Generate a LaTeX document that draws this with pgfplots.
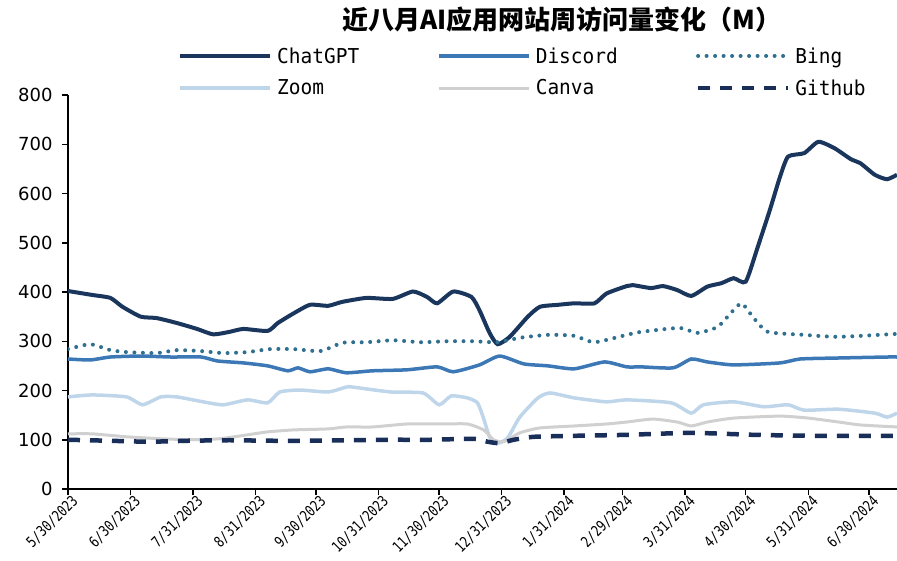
\documentclass[border=0pt]{standalone}
\usepackage{fontspec}
\usepackage{pgfplots}
\pgfplotsset{compat=1.18}
\setmainfont{Liberation Sans}
\newfontfamily\cjk{Noto Sans CJK SC}
\newfontfamily\legfont[FakeStretch=0.95]{DejaVu Sans Mono}
\newfontfamily\tickfont[FakeStretch=0.8]{DejaVu Sans Mono}
\newfontfamily\numfont{DejaVu Sans}

\definecolor{cgpt}{HTML}{1B365D}
\definecolor{disc}{HTML}{3B78B5}
\definecolor{bing}{HTML}{2F6F8F}
\definecolor{zoomc}{HTML}{BFD5EA}
\definecolor{canva}{HTML}{D0D0D0}
\definecolor{ghub}{HTML}{1A2E5A}

\begin{document}
\begin{tikzpicture}
\useasboundingbox (-68bp,-72bp) rectangle (829bp,489bp);
\begin{axis}[
    at={(0,0)}, anchor=south west,
    scale only axis,
    width=829bp, height=394bp,
    xmin=0, xmax=411,
    ymin=0, ymax=800,
    ytick={0,100,...,800},
    xtick={0,31,62,93,123,154,184,215,246,275,306,336,367,397},
    xticklabels={5/30/2023,6/30/2023,7/31/2023,8/31/2023,9/30/2023,10/31/2023,11/30/2023,12/31/2023,1/31/2024,2/29/2024,3/31/2024,4/30/2024,5/31/2024,6/30/2024},
    axis x line*=bottom,
    axis y line*=left,
    axis line style={line width=2bp, black},
    tick style={line width=1.5bp, black},
    tick align=outside,
    major tick length=6bp,
    /pgf/number format/assume math mode=true,
    yticklabel style={font=\numfont\fontsize{18bp}{22bp}\selectfont, xshift=-6bp},
    xticklabel style={font=\tickfont\fontsize{15bp}{17bp}\selectfont, rotate=45, anchor=north east, xshift=6bp, yshift=2bp},
    legend columns=3,
    legend cell align=left,
    legend style={
        at={(rel axis cs:0.5488,1.0584)}, anchor=center,
        draw=none, fill=none, inner sep=0pt,
        font=\legfont\fontsize{20.5bp}{23bp}\selectfont,
        row sep=11bp,
        /tikz/every even column/.append style={column sep=76bp},
        /tikz/every odd column/.append style={column sep=3bp},
    },
    legend image code/.code={\draw[#1] (0bp,0bp) -- (90bp,0bp);},
    every axis plot/.append style={mark=none, smooth, tension=0.35},
]
\addplot[cgpt, line width=4bp] coordinates {
(0,402)(12,394)(21,388)(27,370)(36,350)(44,347)(54,337)(64,325)(72,314)(80,319)
(87,325)(99,321)(104,337)(112,357)(120,374)(129,372)(136,380)(148,388)(161,386)
(171,401)(178,390)(183,377)(191,401)(200,390)(204,363)(209,317)(213,294)(219,309)
(228,350)(234,370)(243,374)(251,377)(261,377)(267,397)(277,412)(280,414)(289,408)
(295,412)(302,404)(309,392)(317,411)(324,418)(330,428)(336,421)(342,492)(348,567)
(353,634)(357,675)(365,682)(372,705)(380,692)(388,670)(393,661)(400,638)(406,629)(411,638)
};
\addlegendentry{ChatGPT}
\addplot[disc, line width=3.5bp] coordinates {
(0,264)(11,262)(21,268)(36,270)(51,268)(66,268)(74,260)(87,256)(99,250)(109,240)
(114,246)(120,238)(129,244)(138,236)(151,240)(168,242)(183,248)(191,238)(204,252)
(214,270)(226,254)(238,250)(251,244)(266,258)(277,248)(284,248)(300,246)(309,264)
(317,258)(330,252)(353,256)(363,264)(382,266)(406,268)(411,268)
};
\addlegendentry{Discord}
\addplot[bing, line width=4bp, line cap=round, dash pattern=on 0bp off 8.5bp] coordinates {
(0,284)(11,294)(21,282)(29,278)(44,276)(54,282)(66,280)(77,276)(89,278)(100,284)
(112,284)(125,280)(134,294)(138,298)(148,298)(161,302)(175,298)(188,300)(201,300)
(213,298)(224,307)(238,313)(251,311)(261,298)(277,313)(284,319)(303,327)(312,317)
(322,329)(329,359)(334,377)(340,347)(347,319)(365,313)(382,309)(411,315)
};
\addlegendentry{Bing}
\addplot[zoomc, line width=3.5bp] coordinates {
(0,187)(12,191)(29,187)(37,171)(46,187)(54,187)(67,177)(77,171)(89,181)(99,175)
(105,197)(115,201)(129,197)(138,207)(141,207)(160,197)(176,195)(184,171)(190,189)
(198,185)(203,175)(206,144)(209,106)(213,93)(218,104)(224,146)(233,185)(239,195)
(251,185)(267,177)(277,181)(299,175)(309,154)(315,171)(330,177)(345,167)(357,171)
(365,160)(382,162)(400,154)(406,146)(411,154)
};
\addlegendentry{Zoom}
\addplot[canva, line width=3bp] coordinates {
(0,112)(12,112)(29,106)(46,102)(62,100)(75,102)(89,110)(99,116)(112,120)(129,122)
(138,126)(151,126)(168,132)(185,132)(198,132)(206,120)(211,100)(216,96)(224,114)
(234,124)(251,128)(267,132)(277,136)(290,142)(302,136)(309,128)(317,136)(330,144)
(353,148)(367,144)(382,136)(393,130)(411,126)
};
\addlegendentry{Canva}
\addplot[ghub, line width=4.5bp, dash pattern=on 12bp off 10bp] coordinates {
(0,100)(20,98)(40,96)(60,98)(80,99)(100,98)(120,98)(140,99)(160,100)(180,100)
(201,102)(208,96)(214,93)(221,100)(231,106)(251,108)(277,110)(309,114)(340,110)
(370,108)(411,108)
};
\addlegendentry{Github}
\end{axis}
\node[font=\cjk\bfseries\fontsize{26bp}{29bp}\selectfont] at (494bp,469bp) {近八月AI应用网站周访问量变化（M）};
\end{tikzpicture}
\end{document}
